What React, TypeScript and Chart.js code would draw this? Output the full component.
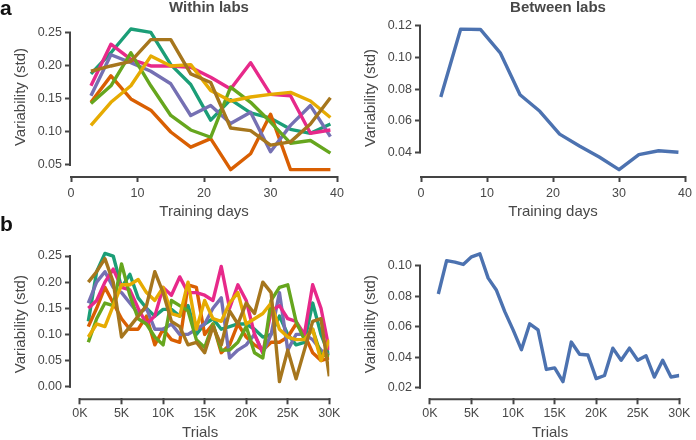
import React, { useEffect, useRef } from 'react';
import { Chart, registerables } from 'chart.js';

Chart.register(...registerables);

// ---------- data ----------
const LAB_COLORS = ['#1b9e77', '#d95f02', '#7570b3', '#e7298a', '#66a61e', '#e6ab02', '#a6761d'];
const BLUE = '#4c72b0';

const trainingDays = [3, 6, 9, 12, 15, 18, 21, 24, 27, 30, 33, 36, 39];

const daysTeal = [0.188, 0.22, 0.256, 0.251, 0.202, 0.172, 0.118, 0.149, 0.129, 0.121, 0.104, 0.098, 0.112];
const daysOrange = [0.145, 0.185, 0.15, 0.133, 0.1, 0.077, 0.09, 0.043, 0.067, 0.127, 0.043, 0.043, 0.043];
const daysPurple = [0.155, 0.217, 0.205, 0.192, 0.173, 0.125, 0.14, 0.113, 0.13, 0.07, 0.11, 0.14, 0.093];
const daysPink = [0.17, 0.233, 0.21, 0.2, 0.2, 0.198, 0.183, 0.165, 0.205, 0.157, 0.155, 0.098, 0.103];
const daysGreen = [0.143, 0.17, 0.22, 0.17, 0.125, 0.103, 0.092, 0.168, 0.145, 0.115, 0.083, 0.087, 0.068];
const daysYellow = [0.11, 0.145, 0.17, 0.215, 0.2, 0.202, 0.163, 0.147, 0.153, 0.157, 0.16, 0.147, 0.122];
const daysBrown = [0.192, 0.2, 0.207, 0.24, 0.24, 0.188, 0.175, 0.106, 0.102, 0.08, 0.085, 0.112, 0.152];

const daysBetween = [0.075, 0.118, 0.1178, 0.103, 0.0765, 0.066, 0.0515, 0.044, 0.037, 0.029, 0.0385, 0.041, 0.040];

const trials = [
  1000, 2000, 3000, 4000, 5000, 6000, 7000, 8000, 9000, 10000,
  11000, 12000, 13000, 14000, 15000, 16000, 17000, 18000, 19000, 20000,
  21000, 22000, 23000, 24000, 25000, 26000, 27000, 28000, 29000, 30000,
];

const trialsTeal = [0.125, 0.22, 0.255, 0.25, 0.19, 0.215, 0.17, 0.15, 0.135, 0.148, 0.148, 0.135, 0.155, 0.10, 0.12, 0.13, 0.11, 0.115, 0.12, 0.12, 0.11, 0.095, 0.10, 0.135, 0.10, 0.08, 0.085, 0.16, 0.10, 0.06];
const trialsOrange = [0.115, 0.15, 0.19, 0.16, 0.13, 0.11, 0.11, 0.135, 0.08, 0.11, 0.09, 0.085, 0.195, 0.19, 0.10, 0.12, 0.065, 0.08, 0.12, 0.095, 0.08, 0.07, 0.085, 0.085, 0.095, 0.12, 0.10, 0.065, 0.05, 0.055];
const trialsPurple = [0.16, 0.20, 0.22, 0.19, 0.18, 0.16, 0.14, 0.15, 0.11, 0.11, 0.12, 0.10, 0.10, 0.11, 0.12, 0.15, 0.17, 0.055, 0.07, 0.08, 0.10, 0.065, 0.10, 0.18, 0.07, 0.10, 0.10, 0.09, 0.07, 0.06];
const trialsPink = [0.15, 0.165, 0.20, 0.225, 0.19, 0.185, 0.15, 0.12, 0.135, 0.19, 0.175, 0.21, 0.18, 0.18, 0.175, 0.165, 0.23, 0.15, 0.195, 0.165, 0.10, 0.065, 0.145, 0.155, 0.13, 0.125, 0.10, 0.195, 0.15, 0.07];
const trialsGreen = [0.085, 0.13, 0.16, 0.155, 0.235, 0.175, 0.13, 0.12, 0.095, 0.08, 0.165, 0.155, 0.145, 0.09, 0.075, 0.12, 0.07, 0.07, 0.085, 0.115, 0.065, 0.055, 0.165, 0.19, 0.195, 0.125, 0.09, 0.11, 0.06, 0.06];
const trialsYellow = [0.095, 0.12, 0.115, 0.155, 0.195, 0.195, 0.205, 0.18, 0.165, 0.19, 0.14, 0.135, 0.20, 0.11, 0.165, 0.13, 0.125, 0.16, 0.18, 0.12, 0.13, 0.14, 0.16, 0.11, 0.095, 0.09, 0.09, 0.11, 0.05, 0.09];
const trialsBrown = [0.20, 0.22, 0.245, 0.20, 0.095, 0.115, 0.135, 0.155, 0.22, 0.18, 0.125, 0.115, 0.08, 0.085, 0.065, 0.115, 0.08, 0.145, 0.12, 0.16, 0.14, 0.20, 0.18, 0.01, 0.07, 0.015, 0.07, 0.125, 0.13, 0.02];

const trialsBetween = [0.0816, 0.1035, 0.1025, 0.101, 0.106, 0.108, 0.092, 0.084, 0.070, 0.058, 0.045, 0.062, 0.058, 0.032, 0.033, 0.024, 0.050, 0.042, 0.0415, 0.026, 0.028, 0.046, 0.038, 0.046, 0.038, 0.041, 0.027, 0.038, 0.027, 0.028];

const dayTicks = [0, 10, 20, 30, 40];
const trialTicks = [0, 5000, 10000, 15000, 20000, 25000, 30000];
const withinDaysYTicks = [0.05, 0.1, 0.15, 0.2, 0.25];
const betweenDaysYTicks = [0.04, 0.06, 0.08, 0.1, 0.12];
const withinTrialsYTicks = [0, 0.05, 0.1, 0.15, 0.2, 0.25];
const betweenTrialsYTicks = [0.02, 0.04, 0.06, 0.08, 0.1];

const panelTitles = ['Within labs', 'Between labs'];
const panelLetters = ['a', 'b'];
const yTitle = 'Variability (std)';
const xTitleDays = 'Training days';
const xTitleTrials = 'Trials';

// ---------- styling ----------
const FONT = "'Liberation Sans', Arial, Helvetica, sans-serif";
const TEXT = '#484848';
const AXIS = '#444444';

const spinePlugin = {
  id: 'trimSpines',
  afterDraw(chart: any) {
    const { ctx, chartArea } = chart;
    const xs = chart.scales.x;
    const ys = chart.scales.y;
    ctx.save();
    ctx.strokeStyle = AXIS;
    ctx.lineWidth = 2;
    ctx.lineCap = 'butt';
    const xt = xs.ticks;
    const yt = ys.ticks;
    const x0 = xs.getPixelForValue(xt[0].value);
    const x1 = xs.getPixelForValue(xt[xt.length - 1].value);
    ctx.beginPath();
    ctx.moveTo(x0 - 1, chartArea.bottom + 1);
    ctx.lineTo(x1 + 1, chartArea.bottom + 1);
    ctx.stroke();
    const y0 = ys.getPixelForValue(yt[0].value);
    const y1 = ys.getPixelForValue(yt[yt.length - 1].value);
    ctx.beginPath();
    ctx.moveTo(chartArea.left - 1, y0 + 1);
    ctx.lineTo(chartArea.left - 1, y1 - 1);
    ctx.stroke();
    ctx.restore();
  },
};

type Series = { x: number[]; y: number[]; color: string };

type PanelSpec = {
  left: number;
  top: number;
  width: number;
  height: number;
  series: Series[];
  xMin: number;
  xMax: number;
  yMin: number;
  yMax: number;
  xTicks: number[];
  yTicks: number[];
  xFmt: (v: number) => string;
  xTitle: string;
  padding: { left: number; top: number; right: number; bottom: number };
  yWidth: number;
  xHeight: number;
  xLabelPad: number;
  xTitlePad: number;
};

function makeConfig(p: PanelSpec): any {
  const n = p.series.length;
  return {
    type: 'line',
    data: {
      datasets: p.series.map((s, i) => ({
        data: s.x.map((xv, j) => ({ x: xv, y: s.y[j] })),
        borderColor: s.color,
        backgroundColor: s.color,
        borderWidth: 3.4,
        pointRadius: 0,
        tension: 0,
        fill: false,
        borderJoinStyle: 'round',
        borderCapStyle: 'butt',
        order: n - i,
      })),
    },
    plugins: [spinePlugin],
    options: {
      animation: false,
      responsive: false,
      devicePixelRatio: 1,
      events: [],
      layout: { padding: p.padding },
      plugins: { legend: { display: false }, tooltip: { enabled: false }, title: { display: false } },
      scales: {
        x: {
          type: 'linear',
          min: p.xMin,
          max: p.xMax,
          afterBuildTicks: (s: any) => {
            s.ticks = p.xTicks.map((v) => ({ value: v }));
          },
          afterFit: (s: any) => {
            s.height = p.xHeight;
          },
          border: { display: false },
          grid: {
            display: true,
            drawOnChartArea: false,
            drawTicks: true,
            tickLength: 6,
            tickWidth: 2,
            tickColor: AXIS,
            color: AXIS,
          },
          ticks: {
            autoSkip: false,
            maxRotation: 0,
            minRotation: 0,
            padding: p.xLabelPad,
            color: TEXT,
            font: { family: FONT, size: 12.5 },
            callback: (v: any) => p.xFmt(Number(v)),
          },
          title: {
            display: true,
            text: p.xTitle,
            color: TEXT,
            font: { family: FONT, size: 15 },
            padding: { top: 0, bottom: p.xTitlePad },
          },
        },
        y: {
          type: 'linear',
          min: p.yMin,
          max: p.yMax,
          afterBuildTicks: (s: any) => {
            s.ticks = p.yTicks.map((v) => ({ value: v }));
          },
          afterFit: (s: any) => {
            s.width = p.yWidth;
          },
          border: { display: false },
          grid: {
            display: true,
            drawOnChartArea: false,
            drawTicks: true,
            tickLength: 6,
            tickWidth: 2,
            tickColor: AXIS,
            color: AXIS,
          },
          ticks: {
            autoSkip: false,
            padding: 3,
            color: TEXT,
            font: { family: FONT, size: 12.5 },
            callback: (v: any) => Number(v).toFixed(2),
          },
          title: {
            display: true,
            text: yTitle,
            color: TEXT,
            font: { family: FONT, size: 15 },
            padding: { top: 4, bottom: 4 },
          },
        },
      },
    },
  };
}

function Panel({ spec }: { spec: PanelSpec }) {
  const ref = useRef<HTMLCanvasElement>(null);
  useEffect(() => {
    const chart = new Chart(ref.current as HTMLCanvasElement, makeConfig(spec));
    return () => chart.destroy();
  }, []);
  return (
    <canvas
      ref={ref}
      width={spec.width}
      height={spec.height}
      style={{ position: 'absolute', left: spec.left, top: spec.top, width: spec.width, height: spec.height }}
    />
  );
}

const labSeries = (x: number[], ys: number[][]): Series[] =>
  ys.map((y, i) => ({ x, y, color: LAB_COLORS[i] }));

const kFmt = (v: number) => `${Math.round(v / 1000)}K`;
const dayFmt = (v: number) => `${v}`;

const panels: PanelSpec[] = [
  {
    left: 0, top: 0, width: 348, height: 222,
    series: labSeries(trainingDays, [daysTeal, daysOrange, daysPurple, daysPink, daysGreen, daysYellow, daysBrown]),
    xMin: 0, xMax: 40, yMin: 0.0333, yMax: 0.2727,
    xTicks: dayTicks, yTicks: withinDaysYTicks, xFmt: dayFmt, xTitle: xTitleDays,
    padding: { left: 8, top: 18, right: 9, bottom: 0 },
    yWidth: 63, xHeight: 46, xLabelPad: 4, xTitlePad: 1,
  },
  {
    left: 350, top: 0, width: 346, height: 222,
    series: [{ x: trainingDays, y: daysBetween, color: BLUE }],
    xMin: 0, xMax: 40, yMin: 0.025, yMax: 0.1238,
    xTicks: dayTicks, yTicks: betweenDaysYTicks, xFmt: dayFmt, xTitle: xTitleDays,
    padding: { left: 8, top: 20, right: 6.7, bottom: 0 },
    yWidth: 63, xHeight: 46, xLabelPad: 4, xTitlePad: 1,
  },
  {
    left: 0, top: 220, width: 348, height: 222,
    series: labSeries(trials, [trialsTeal, trialsOrange, trialsPurple, trialsPink, trialsGreen, trialsYellow, trialsBrown]),
    xMin: -1083, xMax: 30000, yMin: -0.0222, yMax: 0.2615,
    xTicks: trialTicks, yTicks: withinTrialsYTicks, xFmt: kFmt, xTitle: xTitleTrials,
    padding: { left: 8, top: 30, right: 18.7, bottom: 0 },
    yWidth: 63, xHeight: 43.7, xLabelPad: 2, xTitlePad: 0,
  },
  {
    left: 350, top: 220, width: 346, height: 222,
    series: [{ x: trials, y: trialsBetween, color: BLUE }],
    xMin: -1083, xMax: 30000, yMin: 0.01303, yMax: 0.1105,
    xTicks: trialTicks, yTicks: betweenTrialsYTicks, xFmt: kFmt, xTitle: xTitleTrials,
    padding: { left: 8, top: 30, right: 16.7, bottom: 0 },
    yWidth: 63, xHeight: 43.7, xLabelPad: 2, xTitlePad: 0,
  },
];

export default function App() {
  const titleStyle: React.CSSProperties = {
    position: 'absolute',
    top: -2,
    width: 200,
    textAlign: 'center',
    fontFamily: FONT,
    fontWeight: 'bold',
    fontSize: 15,
    lineHeight: '18px',
    color: TEXT,
    whiteSpace: 'nowrap',
  };
  const letterStyle: React.CSSProperties = {
    position: 'absolute',
    left: 0,
    fontFamily: FONT,
    fontWeight: 'bold',
    fontSize: 21,
    lineHeight: '21px',
    color: '#111111',
  };
  return (
    <div style={{ position: 'absolute', left: 0, top: 0, width: 696, height: 440, overflow: 'hidden', background: '#ffffff' }}>
      {panels.map((p, i) => (
        <Panel key={i} spec={p} />
      ))}
      <div style={{ ...titleStyle, left: 209 - 100 }}>{panelTitles[0]}</div>
      <div style={{ ...titleStyle, left: 558 - 100 }}>{panelTitles[1]}</div>
      <div style={{ ...letterStyle, top: -3 }}>{panelLetters[0]}</div>
      <div style={{ ...letterStyle, top: 213 }}>{panelLetters[1]}</div>
    </div>
  );
}
